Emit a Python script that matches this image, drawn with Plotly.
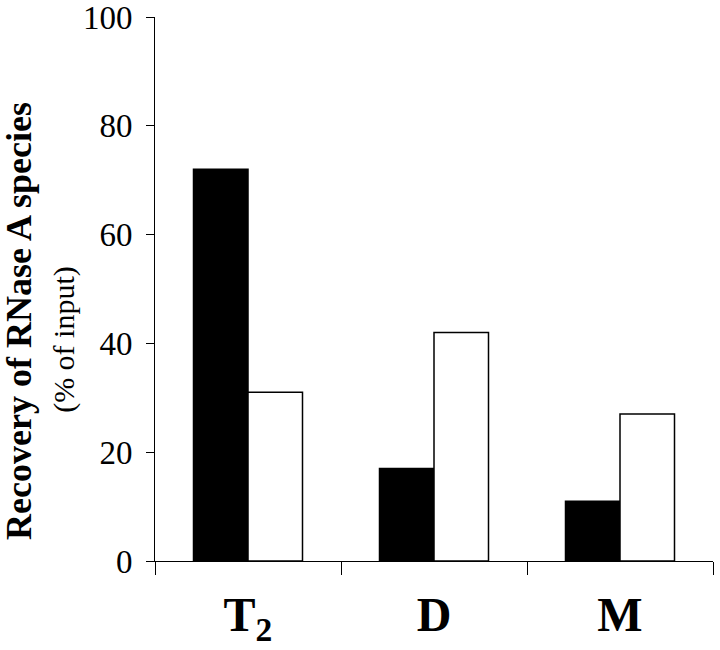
import plotly.graph_objects as go

categories = ["T<sub>2</sub>", "D", "M"]
black_values = [72, 17, 11]
white_values = [31, 42, 27]
y_ticks = [0, 20, 40, 60, 80, 100]

FONT = "Liberation Serif, Times New Roman, serif"

fig = go.Figure()
fig.add_trace(go.Bar(x=categories, y=black_values, marker=dict(color="black", line=dict(color="black", width=1.5)), showlegend=False))
fig.add_trace(go.Bar(x=categories, y=white_values, marker=dict(color="white", line=dict(color="black", width=1.5)), showlegend=False))

fig.update_layout(
    width=720, height=650,
    margin=dict(l=155, r=7, t=17, b=89, autoexpand=False),
    paper_bgcolor="white", plot_bgcolor="white",
    barmode="group", bargap=0.414, bargroupgap=0,
    font=dict(family=FONT, color="black"),
    xaxis=dict(
        type="category", range=[-0.5, 2.5], automargin=False,
        showline=True, linecolor="black", linewidth=1,
        ticks="outside", tickson="boundaries", ticklen=13, tickcolor="black", tickwidth=1,
        tickfont=dict(family=FONT, size=48, color="black", weight="bold"),
        ticklabelstandoff=11,
        showgrid=False, zeroline=False,
    ),
    yaxis=dict(
        range=[0, 100], tickvals=y_ticks, automargin=False,
        showline=True, linecolor="black", linewidth=1,
        ticks="outside", ticklen=8, tickcolor="black", tickwidth=1,
        tickfont=dict(family=FONT, size=33, color="black"),
        ticklabelstandoff=7, ticklabeloverflow="allow",
        showgrid=False, zeroline=False,
    ),
    annotations=[
        dict(text="<b>Recovery of RNase A species</b>", xref="paper", yref="paper",
             x=-0.244, y=0.441, textangle=-90, showarrow=False,
             font=dict(family=FONT, size=36, color="black"), xanchor="center", yanchor="middle"),
        dict(text="(% of input)", xref="paper", yref="paper",
             x=-0.163, y=0.4066, textangle=-90, showarrow=False,
             font=dict(family=FONT, size=30, color="black"), xanchor="center", yanchor="middle"),
    ],
)

fig.write_html("out.html", config={"displayModeBar": False},
               post_script="document.body.style.margin='0';document.body.style.overflow='hidden';")
